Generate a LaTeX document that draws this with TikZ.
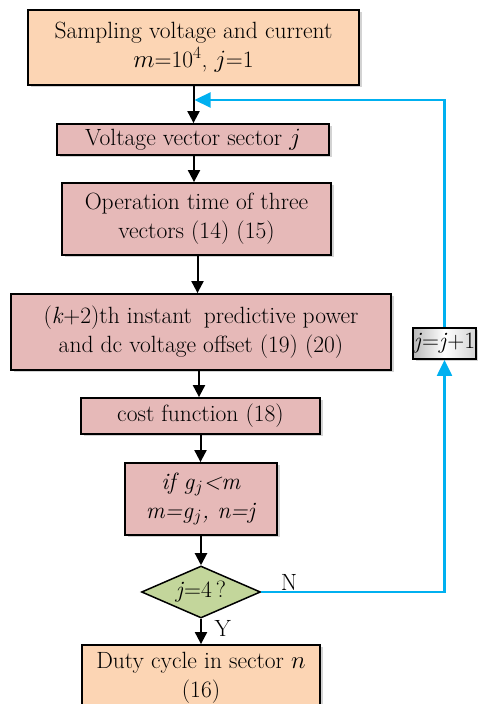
\documentclass[tikz,border=0pt]{standalone}
\usepackage{fontspec}
\usetikzlibrary{arrows.meta,shapes.geometric,shadows,calc}
\definecolor{peach}{HTML}{FCD5B4}
\definecolor{rose}{HTML}{E6B9B8}
\definecolor{olive}{HTML}{C3D69B}
\definecolor{loopblue}{HTML}{00B0F0}
\tikzset{
  base/.style={draw=black, line width=1.8pt, align=center, inner sep=1pt,
    font=\fontsize{23.5}{29}\selectfont,
    drop shadow={shadow xshift=2.5pt, shadow yshift=-2.5pt, opacity=0.35}},
  peachbox/.style={base, fill=peach},
  rosebox/.style={base, fill=rose},
  decision/.style={draw=black, line width=1.5pt, diamond, aspect=2.3, fill=olive, inner sep=0pt,
    font=\fontsize{23.5}{29}\selectfont},
  graybox/.style={base, shading=axis, left color=gray!55, right color=gray!35, middle color=white, shading angle=90},
  flow/.style={line width=2pt, -{Triangle[length=12pt,width=12pt]}},
  loop/.style={line width=2.2pt, draw=loopblue, -{Triangle[length=16pt,width=15pt]}, loopblue},
  lbl/.style={font=\fontsize{23.5}{28}\selectfont}
}
\begin{document}
\begin{tikzpicture}[x=1pt,y=1pt]
\useasboundingbox (0,0) rectangle (477,704);
\node[peachbox, minimum width=331pt, minimum height=75pt] (b1) at (193.5,656.5)
  {Sampling voltage and current\\ $m$=10$^4$, $j$=1};
\node[rosebox, minimum width=272pt, minimum height=31pt] (b2) at (193,564.5)
  {Voltage vector sector $j$};
\node[rosebox, minimum width=269pt, minimum height=72pt] (b3) at (196.5,485)
  {Operation time of three\\ vectors (14) (15)};
\node[rosebox, minimum width=380pt, minimum height=76pt] (b4) at (201,372)
  {(\textit{k}+2)th instant\hspace{0.5em}predictive power\\ and dc voltage offset (19) (20)};
\node[rosebox, minimum width=239pt, minimum height=36pt] (b5) at (200.5,288)
  {cost function (18)};
\node[rosebox, minimum width=152pt, minimum height=72pt] (b6) at (201,205)
  {\textit{if g}$_j$\textit{<m}\\ \textit{m=g}$_j$\textit{, n=j}};
\node[decision, minimum width=119pt, minimum height=52pt] (d) at (201,112)
  {\textit{j}=4\,?};
\node[peachbox, minimum width=238pt, minimum height=66pt] (b7) at (201,26)
  {Duty cycle in sector $n$\\ (16)};
\node[graybox, minimum width=63pt, minimum height=31pt, inner sep=0pt] (inc) at (444.5,360.5)
  {\textit{j}=\textit{j}+1};
\coordinate (top) at (444.5,604);
\coordinate (join) at (b1.south |- top);
\coordinate (corner) at (inc.south |- d.east);
\draw[flow] (b1.south) -- (b1.south |- b2.north);
\draw[flow] ($(b2.south)+(1,0)$) -- ($(b2.south |- b3.north)+(1,0)$);
\draw[flow] ($(b3.south)+(1,0)$) -- ($(b3.south |- b4.north)+(1,0)$);
\draw[flow] ($(b4.south)+(-2,0)$) -- ($(b4.south |- b5.north)+(-2,0)$);
\draw[flow] (b5.south) -- (b5.south |- b6.north);
\draw[flow] (b6.south) -- (d.north);
\draw[flow] (d.south) -- (b7.north);
\draw[loop] (d.east) -- (corner) -- (inc.south);
\draw[loop] (inc.north) -- (top) -- ($(join)+(1,0)$);
\node[lbl, anchor=south west] (nl) at ($(d.east)+(16,-2)$) {N};
\node[lbl, anchor=north west] (yl) at ($(d.south)+(10,2)$) {Y};
\end{tikzpicture}
\end{document}
